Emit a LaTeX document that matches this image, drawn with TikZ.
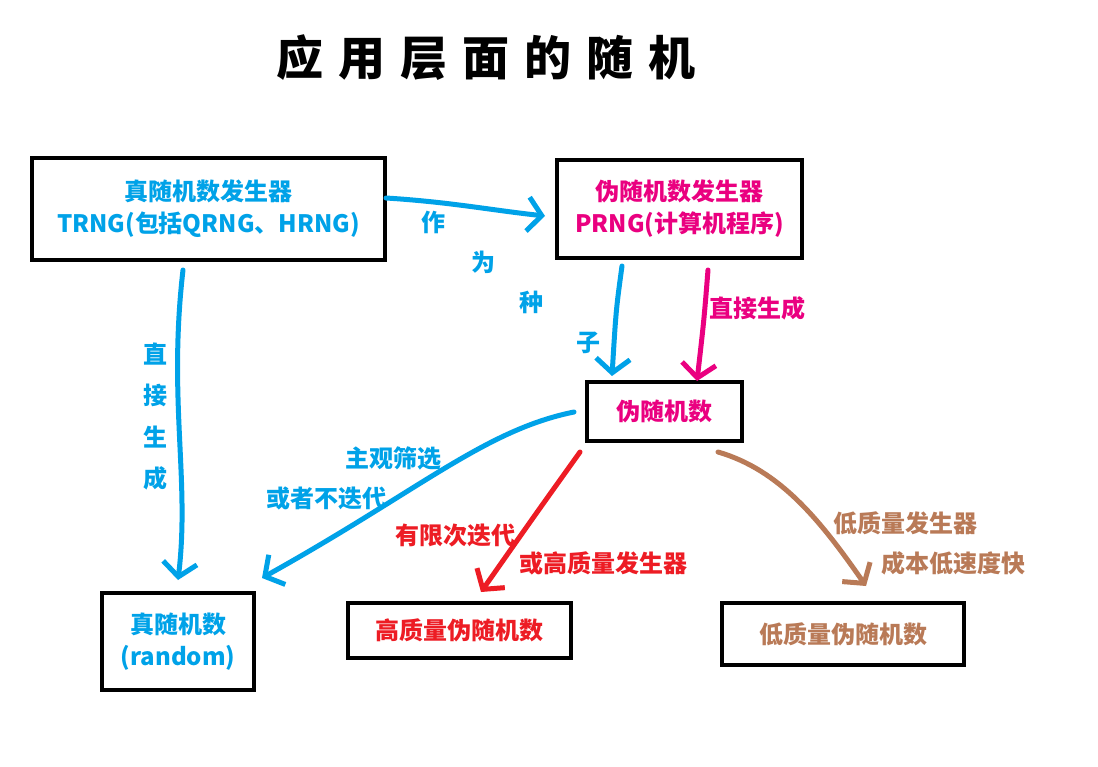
\documentclass[tikz,border=0pt]{standalone}
\usepackage{fontspec}
\setmainfont{Noto Sans CJK SC}
\usetikzlibrary{arrows.meta}
\definecolor{pblue}{RGB}{0,162,232}
\definecolor{pmag}{RGB}{234,0,128}
\definecolor{pred}{RGB}{237,28,36}
\definecolor{pbrown}{RGB}{185,122,87}
\begin{document}
\begin{tikzpicture}[x=1pt,y=-1pt,
  box/.style={draw=black,line width=4pt,inner sep=0pt,align=center,font=\bfseries\fontsize{24}{32}\selectfont},
  lab/.style={inner sep=0pt,font=\bfseries\fontsize{24}{28}\selectfont},
  arr/.style={line width=5pt,line cap=round,line join=round,-{Straight Barb[length=14pt,width=34pt,line width=5pt]}}]
\useasboundingbox[fill=white] (0,0) rectangle (1098,767);
\node[inner sep=0pt,font=\bfseries\fontsize{47}{52}\selectfont\addfontfeature{LetterSpace=32}] (title) at (486,58) {应用层面的随机};
% boxes
\node[box,minimum width=353pt,minimum height=102pt,text=pblue] (trng) at (208.5,209) {真随机数发生器\\TRNG(包括QRNG、HRNG)};
\node[box,minimum width=245pt,minimum height=98pt,text=pmag] (prng) at (679.5,209) {伪随机数发生器\\PRNG(计算机程序)};
\node[box,minimum width=155pt,minimum height=59pt,text=pmag] (pseudo) at (664.5,411.5) {伪随机数};
\node[box,minimum width=152pt,minimum height=97pt,text=pblue] (truer) at (178,641.5) {真随机数\\(random)};
\node[box,minimum width=223pt,minimum height=55pt,text=pred] (hq) at (459.5,630.5) {高质量伪随机数};
\node[box,minimum width=242pt,minimum height=62pt,text=pbrown] (lq) at (843,634) {低质量伪随机数};
% endpoints
\coordinate (a1s) at (386,198); \coordinate (a1e) at (545,216);
\coordinate (a2s) at (622,266); \coordinate (a2e) at (612,376);
\coordinate (a3s) at (708,270); \coordinate (a3e) at (697,381);
\coordinate (a4s) at (183,270); \coordinate (a4e) at (178,580);
\coordinate (a5s) at (574,412); \coordinate (a5e) at (262,578);
\coordinate (a6s) at (580,452); \coordinate (a6e) at (481,592);
\coordinate (a7s) at (718,452); \coordinate (a7e) at (866,586);
% arrows
\draw[arr,pblue] (a1s) .. controls (450,202) and (490,210) .. (a1e);
\draw[arr,pblue] (a2s) .. controls (616,310) .. (a2e);
\draw[arr,pmag] (a3s) .. controls (704,320) .. (a3e);
\draw[arr,pblue] (a4s) .. controls (168,400) and (190,480) .. (a4e);
\draw[arr,pblue] (a5s) .. controls (485,430) and (420,490) .. (a5e);
\draw[arr,pred] (a6s) .. controls (535,515) .. (a6e);
\draw[arr,pbrown] (a7s) .. controls (780,470) and (820,520) .. (a7e);
% labels
\node[lab,text=pblue] (l1) at (433,222) {作};
\node[lab,text=pblue] (l2) at (483,262) {为};
\node[lab,text=pblue] (l3) at (531,302) {种};
\node[lab,text=pblue] (l4) at (588,343) {子};
\node[lab,text=pmag] (l5) at (757,308) {直接生成};
\node[lab,text=pblue] (l6) at (155,354) {直};
\node[lab,text=pblue] (l7) at (155,395) {接};
\node[lab,text=pblue] (l8) at (155,437) {生};
\node[lab,text=pblue] (l9) at (155,478) {成};
\node[lab,text=pblue] (l10) at (393,458) {主观筛选};
\node[lab,text=pblue] (l11) at (326,498) {或者不迭代};
\node[lab,text=pred] (l12) at (455,535) {有限次迭代};
\node[lab,text=pred] (l13) at (603,563) {或高质量发生器};
\node[lab,text=pbrown] (l14) at (905,523) {低质量发生器};
\node[lab,text=pbrown] (l15) at (953,563) {成本低速度快};
\end{tikzpicture}
\end{document}
